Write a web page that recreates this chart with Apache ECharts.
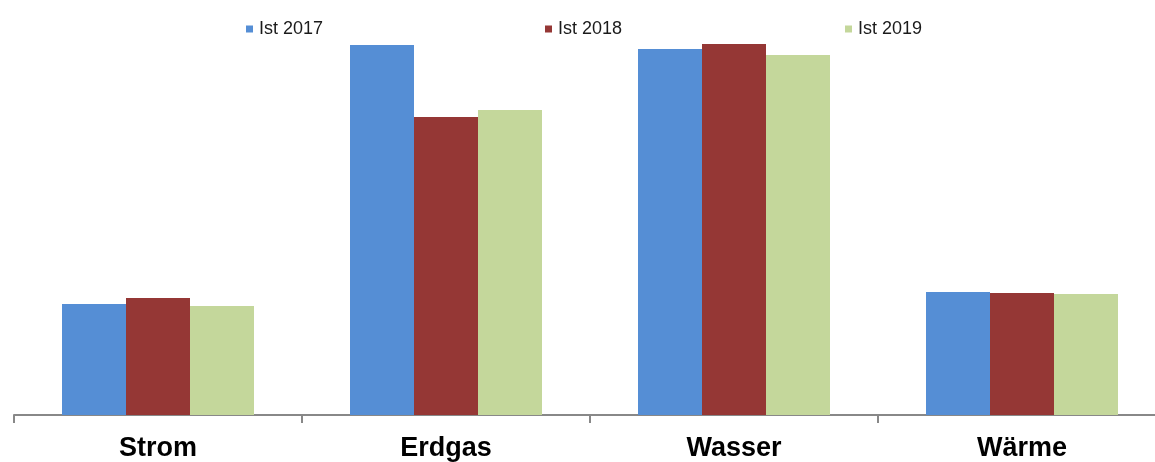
<!DOCTYPE html>
<html>
<head>
<meta charset="utf-8">
<script src="https://cdn.jsdelivr.net/npm/echarts@6/dist/echarts.min.js"></script>
<style>html,body{margin:0;padding:0;background:#fff}#c{width:1155px;height:462px}</style>
</head>
<body>
<div id="c"></div>
<script>
const categories = ['Strom', 'Erdgas', 'Wasser', 'Wärme'];
const seriesNames = ['Ist 2017', 'Ist 2018', 'Ist 2019'];
const ist2017 = [111, 370, 366, 123];
const ist2018 = [117, 298, 371, 122];
const ist2019 = [109, 305, 360, 121];
const colors = ['#558ED5', '#953735', '#C4D79B'];

const chart = echarts.init(document.getElementById('c'), null, {renderer: 'canvas'});
const values = [ist2017, ist2018, ist2019];
const legendLeft = [241, 540, 840];
chart.setOption({
  animation: false,
  legend: seriesNames.map((n, i) => ({
    data: [n],
    left: legendLeft[i],
    top: 15,
    itemWidth: 7,
    itemHeight: 7,
    itemGap: 0,
    icon: 'rect',
    textStyle: {fontFamily: 'Liberation Sans, Arial, sans-serif', fontSize: 18, color: '#1a1a1a', padding: [0, 0, 0, 1]}
  })),
  grid: {left: 14, right: -11, top: 15, bottom: 47, containLabel: false, outerBoundsMode: 'none'},
  xAxis: {
    type: 'category',
    data: categories,
    axisLine: {lineStyle: {color: '#888888', width: 2}},
    axisTick: {show: true, length: 8, lineStyle: {color: '#888888', width: 2}},
    axisLabel: {fontFamily: 'Liberation Sans, Arial, sans-serif', fontSize: 27, fontWeight: 'bold', color: '#000', margin: 20}
  },
  yAxis: {
    type: 'value', min: 0, max: 400, show: false,
    splitLine: {show: false}
  },
  series: seriesNames.map((n, i) => ({
    name: n,
    type: 'bar',
    data: values[i],
    barWidth: 64,
    barGap: '0%',
    itemStyle: {color: colors[i]}
  }))
});
</script>
</body>
</html>
